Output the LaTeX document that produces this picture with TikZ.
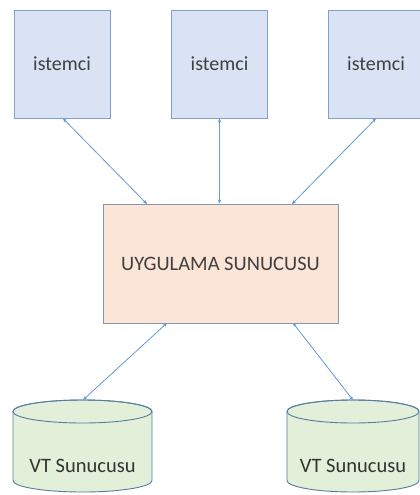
\documentclass[tikz,border=0pt]{standalone}
\usepackage{fontspec}
\setmainfont{Carlito}
\usetikzlibrary{arrows.meta}
\definecolor{clientfill}{RGB}{218,227,243}
\definecolor{clientline}{RGB}{130,160,205}
\definecolor{appfill}{RGB}{251,229,214}
\definecolor{appline}{RGB}{135,150,175}
\definecolor{dbfill}{RGB}{226,239,217}
\definecolor{dbline}{RGB}{85,125,160}
\definecolor{linkcol}{RGB}{95,155,215}
\tikzset{
  client/.style={draw=clientline, fill=clientfill, line width=0.9pt,
    minimum width=96pt, minimum height=108pt, inner sep=0pt,
    font=\fontsize{20}{22}\selectfont, text=black!75},
  appsrv/.style={draw=appline, fill=appfill, line width=0.9pt,
    minimum width=235pt, minimum height=119pt, inner sep=0pt,
    font=\fontsize{20.5}{22}\selectfont, text=black!75},
  dblabel/.style={inner sep=0pt, font=\fontsize{20.5}{22}\selectfont, text=black!80},
  dbshape/.style={draw=dbline, fill=dbfill, line width=0.9pt},
  link/.style={draw=linkcol, line width=0.8pt,
    {Stealth[length=4pt,width=3.5pt]}-{Stealth[length=4pt,width=3.5pt]}}
}
\begin{document}
\begin{tikzpicture}[x=1pt,y=-1pt]
\useasboundingbox (0,0) rectangle (420,495);
\begin{scope}
\clip (0,0) rectangle (420,495);
% client machines
\node[client] (c1) at (62,64) {\raisebox{-3pt}{istemci}};
\node[client] (c2) at (219.5,64) {\raisebox{-3pt}{istemci}};
\node[client] (c3) at (376,64) {\raisebox{-3pt}{istemci}};
% application server
\node[appsrv] (app) at (220.5,263.5) {\raisebox{-3pt}{UYGULAMA SUNUCUSU}};
% database servers: cylinders (body, then the top rim)
\path[dbshape] (13,411.5) -- (13,480.5) arc[start angle=180,end angle=0,x radius=69.5,y radius=11.5]
  -- (152,411.5) arc[start angle=0,end angle=-180,x radius=69.5,y radius=11.5] -- cycle;
\draw[dbline, line width=0.9pt] (82.5,411.5) ellipse[x radius=69.5,y radius=11.5];
\path[dbshape] (287,411.5) -- (287,480.5) arc[start angle=180,end angle=0,x radius=66,y radius=11.5]
  -- (419,411.5) arc[start angle=0,end angle=-180,x radius=66,y radius=11.5] -- cycle;
\draw[dbline, line width=0.9pt] (353,411.5) ellipse[x radius=66,y radius=11.5];
\node[dblabel] (db1) at (82.5,466) {VT Sunucusu};
\node[dblabel] (db2) at (353,466) {VT Sunucusu};
\coordinate (db1top) at (83,400);
\coordinate (db2top) at (353,400);
% connections
\draw[link] (c1.south) ++(1,0) coordinate (c1b) -- (147,204) coordinate (a1);
\draw[link] (c2.south) -- (c2.south |- app.north);
\draw[link] (c3.south) -- (292,204) coordinate (a3);
\draw[link] (167,323) coordinate (a4) -- (db1top);
\draw[link] (293,323) coordinate (a5) -- (db2top);
\end{scope}
\end{tikzpicture}
\end{document}
